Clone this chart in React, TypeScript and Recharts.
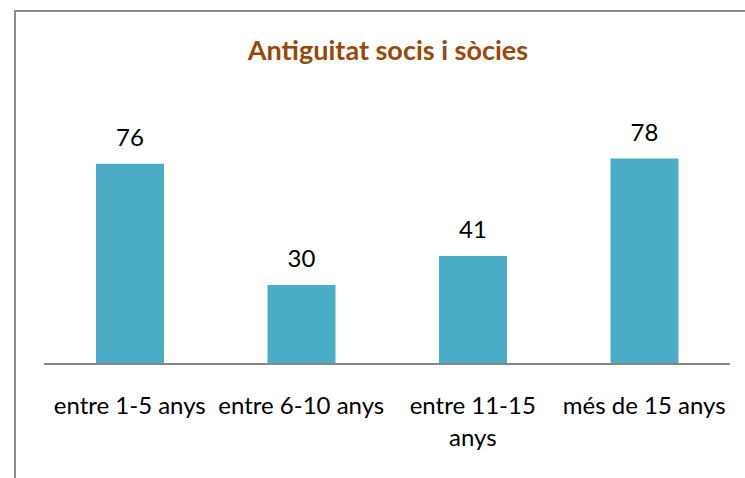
import React from "react";
import { BarChart, Bar, XAxis, YAxis, LabelList } from "recharts";

const categories = ["entre 1-5 anys", "entre 6-10 anys", "entre 11-15 anys", "més de 15 anys"];
const values = [76, 30, 41, 78];

const data = categories.map((name, i) => ({ name, value: values[i] }));

const FONT = "Lato, 'Open Sans', sans-serif";
const TICK_SIZE = 24;
const TICK_MAX_WIDTH = 170;

// measure with a throwaway span so the same font stack as the svg is used
function textWidth(s: string): number {
  const span = document.createElement("span");
  span.style.fontFamily = FONT;
  span.style.fontSize = TICK_SIZE + "px";
  span.style.position = "absolute";
  span.style.visibility = "hidden";
  span.style.whiteSpace = "nowrap";
  span.textContent = s;
  document.body.appendChild(span);
  const w = span.getBoundingClientRect().width;
  document.body.removeChild(span);
  return w;
}

function wrapLabel(text: string): string[] {
  const words = text.split(" ");
  const lines: string[] = [];
  let cur = "";
  for (const w of words) {
    const next = cur ? cur + " " + w : w;
    if (cur && textWidth(next) > TICK_MAX_WIDTH) {
      lines.push(cur);
      cur = w;
    } else {
      cur = next;
    }
  }
  if (cur) lines.push(cur);
  return lines;
}

const WrappedTick = (props: any) => {
  const { x, y, payload } = props;
  const lines = wrapLabel(payload.value);
  return (
    <text
      x={x}
      y={y + 25}
      textAnchor="middle"
      style={{ fontFamily: FONT, fontSize: TICK_SIZE, fill: "#000" }}
    >
      {lines.map((l, i) => (
        <tspan key={i} x={x} dy={i === 0 ? "0.71em" : 32}>
          {l}
        </tspan>
      ))}
    </text>
  );
};

export default function App() {
  return (
    <div
      style={{
        position: "absolute",
        left: 0,
        top: 0,
        width: 745,
        height: 478,
        overflow: "hidden",
        background: "#fff",
      }}
    >
      {/* chart frame, only top and left edges fall inside the picture */}
      <div
        style={{
          position: "absolute",
          left: 14,
          top: 10,
          width: 800,
          height: 600,
          border: "2px solid #8a8a8a",
        }}
      />
      <div
        style={{
          position: "absolute",
          left: 0,
          top: 33,
          width: 776,
          textAlign: "center",
          fontFamily: FONT,
          fontWeight: 700,
          fontSize: 27,
          color: "#984807",
        }}
      >
        Antiguitat socis i sòcies
      </div>
      <div style={{ position: "absolute", left: 0, top: 0 }}>
        <BarChart
          width={745}
          height={478}
          data={data}
          margin={{ top: 127, right: 15, bottom: 14, left: 44 }}
          barSize={68}
        >
          <XAxis
            dataKey="name"
            height={100}
            axisLine={{ stroke: "#878787", strokeWidth: 2 }}
            tickLine={false}
            interval={0}
            tick={<WrappedTick />}
          />
          <YAxis hide domain={[0, 90]} />
          <Bar dataKey="value" fill="#4BACC6" isAnimationActive={false}>
            <LabelList
              dataKey="value"
              position="top"
              offset={18}
              style={{ fontFamily: FONT, fontSize: 24, fill: "#000" }}
            />
          </Bar>
        </BarChart>
      </div>
    </div>
  );
}
